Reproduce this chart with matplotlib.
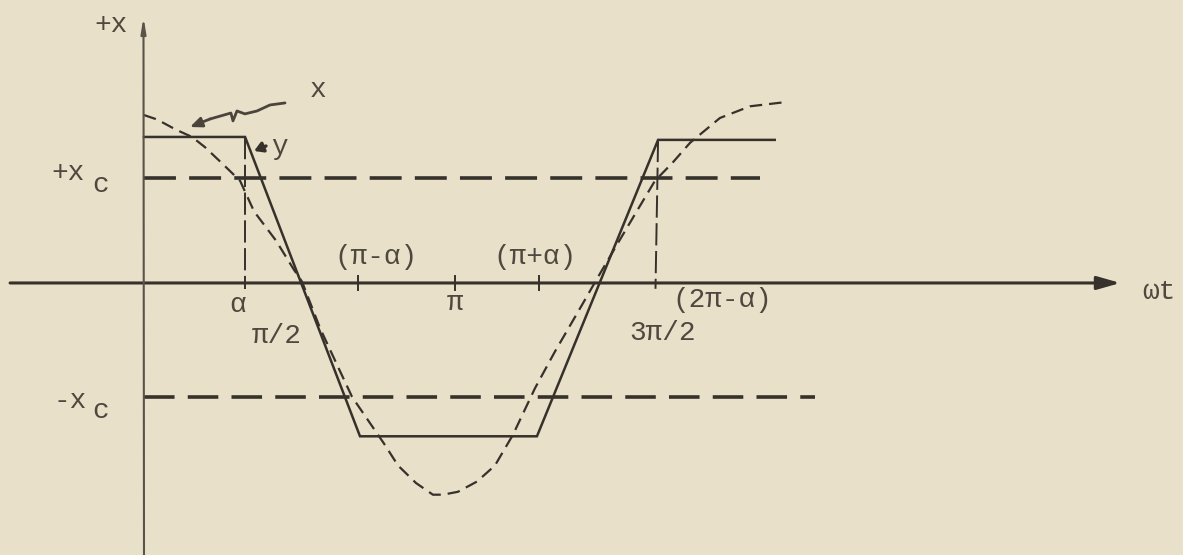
import matplotlib
matplotlib.use("Agg")
import matplotlib.pyplot as plt

plt.rcParams["lines.scale_dashes"] = False
plt.rcParams["font.family"] = ["Liberation Mono", "DejaVu Sans Mono"]

PAPER = "#e9e0c9"
INK = "#36312b"
TEXT_INK = "#4f483f"
FS = 20

# Abscissa: wt in degrees (pi = 180); ordinate: amplitude in units of the limiter level
# Input x (dashed sinusoid)
x_wt = [0, 7.5, 18.5, 27.8, 35.3, 45.1, 55.6, 63.7, 76.4, 86.8, 91.4, 101.9,
        111.7, 120.4, 130.8, 138.9, 147.0, 157.4, 167.2, 173.0, 181.7, 192.7,
        203.1, 213.5, 226.3, 237.8, 253.5, 262.2, 272.6, 284.1, 295.7, 305.6,
        316.0, 333.3, 350.7, 372.1]
x_val = [1.15, 1.12, 1.05, 1.00, 0.93, 0.82, 0.70, 0.49, 0.29, 0.09, 0.01, -0.31,
         -0.56, -0.78, -0.96, -1.10, -1.25, -1.37, -1.45, -1.45, -1.43, -1.36,
         -1.25, -1.04, -0.72, -0.47, -0.15, 0.03, 0.24, 0.47, 0.70, 0.82,
         0.96, 1.13, 1.21, 1.24]

# Limited output y (solid trapezoid)
y_wt = [0, 58.5, 125.0, 227.4, 297.5, 365.0]
y_val = [1.0, 1.0, -1.05, -1.05, 0.98, 0.98]

# Threshold levels
xc_pos, xc_pos_end = 0.72, 356.5
xc_neg, xc_neg_end = -0.78, 388.4

# Axis marks
alpha_wt = 58.5
two_pi_minus_alpha_wt = 296.0
small_ticks = [123.8, 180.0, 228.6]

# Labels under / over the abscissa: (text, wt, amplitude)
axis_labels = [
    ("\u03b1", 54.4, -0.15),
    ("\u03c0/2", 77.0, -0.36),
    ("(\u03c0-\u03b1)", 134.3, 0.18),
    ("\u03c0", 180.0, -0.14),
    ("(\u03c0+\u03b1)", 226.3, 0.18),
    ("3\u03c0/2", 300.3, -0.34),
    ("(2\u03c0-\u03b1)", 334.5, -0.12),
]

# Pointer from the "x" label to the sinusoid
pointer_wt = [81.6, 72.9, 65.4, 58.4, 53.8, 51.5, 50.3, 38.2, 26.6]
pointer_val = [1.233, 1.219, 1.178, 1.158, 1.178, 1.110, 1.164, 1.123, 1.068]

fig = plt.figure(figsize=(11.83, 5.55), dpi=100, facecolor=PAPER)
ax = fig.add_axes([0, 0, 1, 1])
ax.set_facecolor(PAPER)
ax.set_xlim(-83.33, 601.27)
ax.set_ylim(-1.863, 1.938)
ax.axis("off")

# Axes of the sketch
ax.annotate("", xy=(565.0, 0), xytext=(-77.5, 0),
            arrowprops=dict(arrowstyle="-|>,head_length=1.4,head_width=0.4",
                            color=INK, lw=2.2, shrinkA=0, shrinkB=0))
ax.annotate("", xy=(-0.3, 1.82), xytext=(0, -1.863),
            arrowprops=dict(arrowstyle="-|>,head_length=0.9,head_width=0.15",
                            color="#5a534a", lw=1.5, shrinkA=0, shrinkB=0))

# Threshold lines
ax.plot([0, xc_pos_end], [xc_pos, xc_pos], color=INK, lw=2.6,
        linestyle=(0, (23, 9.5)), solid_capstyle="butt")
ax.plot([0, xc_neg_end], [xc_neg, xc_neg], color=INK, lw=2.6,
        linestyle=(0, (22, 9.5)), solid_capstyle="butt")

# Input sinusoid and limited output
ax.plot(x_wt, x_val, color=INK, lw=1.6, linestyle=(0, (9, 5)))
ax.plot(y_wt, y_val, color=INK, lw=1.8, solid_joinstyle="miter")

# Projection lines at alpha and 2pi - alpha
ax.plot([alpha_wt, alpha_wt], [y_val[1], -0.04], color=INK, lw=1.4,
        linestyle=(0, (16, 4)))
ax.plot([y_wt[4], two_pi_minus_alpha_wt], [y_val[4], -0.04], color=INK, lw=1.4,
        linestyle=(0, (16, 4)))

for t in small_ticks:
    ax.plot([t, t], [-0.05, 0.045], color=INK, lw=1.4)

for text, xt, yt in axis_labels:
    ax.text(xt, yt, text, ha="center", va="center", fontsize=FS, color=TEXT_INK)

# Axis names
ax.text(-19.1, 1.767, "+x", ha="center", va="center", fontsize=FS, color=TEXT_INK)
ax.text(587.4, -0.06, "\u03c9t", ha="center", va="center", fontsize=FS, color=TEXT_INK)

# Threshold names
ax.text(-44.0, 0.75, "+x", ha="center", va="center", fontsize=FS, color=TEXT_INK)
ax.text(-25.0, 0.67, "c", ha="center", va="center", fontsize=FS, color=TEXT_INK)
ax.text(-42.8, -0.81, "-x", ha="center", va="center", fontsize=FS, color=TEXT_INK)
ax.text(-25.0, -0.88, "c", ha="center", va="center", fontsize=FS, color=TEXT_INK)

# Curve names and pointers
ax.text(100.7, 1.32, "x", ha="center", va="center", fontsize=FS, color=TEXT_INK)
ax.plot(pointer_wt[:-1], pointer_val[:-1], color="#4a443c", lw=2.0,
        solid_capstyle="round", solid_joinstyle="round")
ax.annotate("", xy=(pointer_wt[-1], pointer_val[-1]),
            xytext=(pointer_wt[-2], pointer_val[-2]),
            arrowprops=dict(arrowstyle="-|>,head_length=0.7,head_width=0.3",
                            color="#4a443c", lw=2.0, shrinkA=0, shrinkB=0))

ax.text(78.6, 0.93, "y", ha="center", va="center", fontsize=FS, color=TEXT_INK)
ax.annotate("", xy=(63.7, 0.904), xytext=(70.6, 0.938),
            arrowprops=dict(arrowstyle="-|>,head_length=0.5,head_width=0.3",
                            color=INK, lw=2.4, shrinkA=0, shrinkB=0))

fig.savefig("out.png", dpi=100, facecolor=PAPER)
